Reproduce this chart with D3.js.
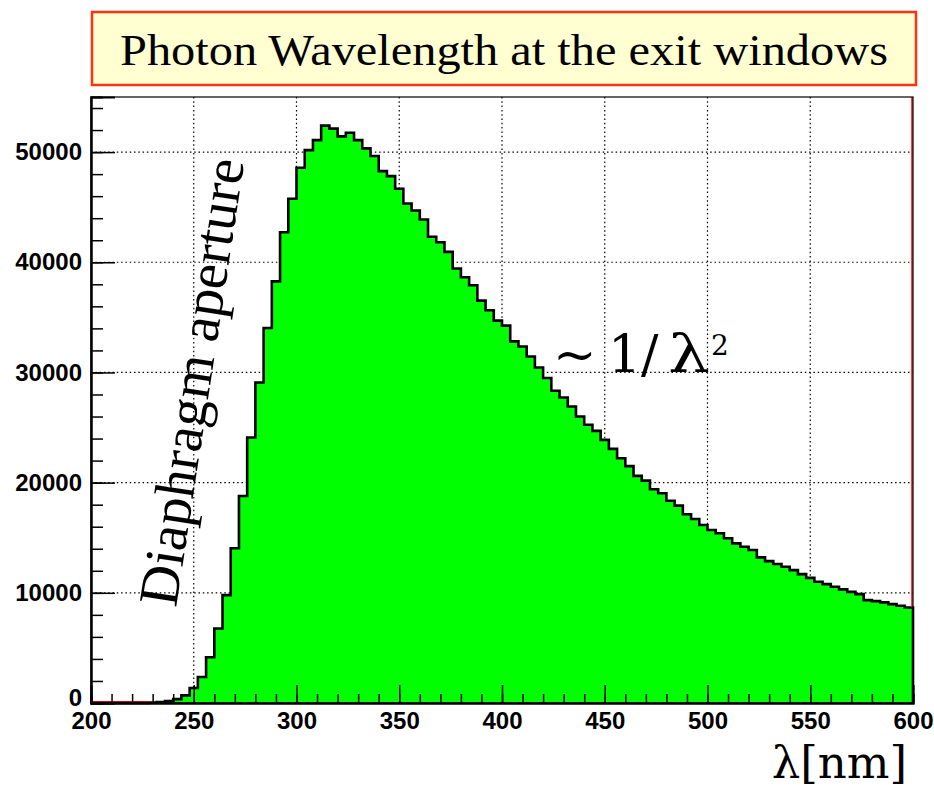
<!DOCTYPE html>
<html>
<head>
<meta charset="utf-8">
<script src="https://cdn.jsdelivr.net/npm/d3@7"></script>
<style>
  html, body { margin: 0; padding: 0; background: #fff; }
  svg { display: block; }
</style>
</head>
<body>
<svg id="chart" width="934" height="788"></svg>
<script>
// ---- data ----
const titleText = "Photon Wavelength at the exit windows";
const xAxisTitle = "λ[nm]";
const annotationAperture = "Diaphragm aperture";
const xTickLabels = [200, 250, 300, 350, 400, 450, 500, 550, 600];
const yTickLabels = [0, 10000, 20000, 30000, 40000, 50000];
const binWidth = 4;
const binLow = [
  200,204,208,212,216,220,224,228,232,236,240,244,248,252,256,260,264,268,272,276,
  280,284,288,292,296,300,304,308,312,316,320,324,328,332,336,340,344,348,352,356,
  360,364,368,372,376,380,384,388,392,396,400,404,408,412,416,420,424,428,432,436,
  440,444,448,452,456,460,464,468,472,476,480,484,488,492,496,500,504,508,512,516,
  520,524,528,532,536,540,544,548,552,556,560,564,568,572,576,580,584,588,592,596
];
const counts = [
  0,0,0,0,5,5,10,30,80,180,350,690,1360,2360,4150,6760,9790,14040,18790,24090,
  29090,34030,38270,42730,45760,48580,50180,51090,52400,52130,51430,51760,51090,50340,49640,48270,47820,46670,45340,44700,
  43880,42310,41820,40940,39430,38640,37910,36520,35640,34700,34250,32820,32360,31450,30450,29490,28340,27730,26910,26000,
  25250,24700,23880,23060,22220,21500,20610,20180,19400,19040,18360,17910,17130,16700,16150,15700,15400,14950,14490,14180,
  13880,13220,12880,12610,12360,12060,11700,11360,11000,10790,10550,10310,10090,9880,9340,9250,9130,8970,8820,8670
];
const xDomain = [200, 600];
const yDomain = [0, 55000];

// ---- layout ----
const L = 91, R = 913, T = 97, B = 703;
const svg = d3.select("#chart");
const x = d3.scaleLinear().domain(xDomain).range([L, R]);
const y = d3.scaleLinear().domain(yDomain).range([B, T]);

// title box
svg.append("rect")
  .attr("x", 92).attr("y", 12).attr("width", 824).attr("height", 73)
  .attr("fill", "#ffffd2").attr("stroke", "#ff3311").attr("stroke-width", 2.5);
svg.append("text")
  .attr("x", 504).attr("y", 65)
  .attr("text-anchor", "middle")
  .attr("font-family", "'Liberation Serif', 'Times New Roman', serif")
  .attr("font-size", 45)
  .attr("textLength", 768).attr("lengthAdjust", "spacingAndGlyphs")
  .attr("fill", "#000")
  .text(titleText);

// frame background
svg.append("rect").attr("x", L).attr("y", T).attr("width", R - L).attr("height", B - T)
  .attr("fill", "#fff");

// grid
const grid = svg.append("g").attr("stroke", "#000").attr("stroke-width", 1.2)
  .attr("stroke-dasharray", "1.5,2.8");
grid.selectAll("line.gx").data(xTickLabels.filter(v => v > xDomain[0] && v < xDomain[1]))
  .join("line").attr("class", "gx")
  .attr("x1", d => x(d)).attr("x2", d => x(d)).attr("y1", T).attr("y2", B);
grid.selectAll("line.gy").data(yTickLabels.filter(v => v > 0))
  .join("line").attr("class", "gy")
  .attr("x1", L).attr("x2", R).attr("y1", d => y(d)).attr("y2", d => y(d));

// histogram
const bins = binLow.map((lo, i) => ({ lo: lo, hi: lo + binWidth, v: counts[i] }));
let fillPath = `M${x(bins[0].lo)},${y(0)}`;
let linePath = `M${x(bins[0].lo)},${y(0)}`;
bins.forEach(b => {
  const seg = `L${x(b.lo)},${y(b.v)}L${x(b.hi)},${y(b.v)}`;
  fillPath += seg; linePath += seg;
});
fillPath += `L${x(bins[bins.length-1].hi)},${y(0)}Z`;
linePath += `L${x(bins[bins.length-1].hi)},${y(0)}`;
svg.append("path").attr("d", fillPath).attr("fill", "#00ff00").attr("stroke", "none");
svg.append("path").attr("d", linePath).attr("fill", "none")
  .attr("stroke", "#000").attr("stroke-width", 2.6).attr("stroke-linejoin", "miter");

// red lines (as in reference)
svg.append("line").attr("x1", x(200)).attr("x2", x(228)).attr("y1", B - 1.5).attr("y2", B - 1.5)
  .attr("stroke", "#cc0000").attr("stroke-width", 1.2);
svg.append("line").attr("x1", R - 1).attr("x2", R - 1).attr("y1", T).attr("y2", y(counts[counts.length-1]))
  .attr("stroke", "#ff0000").attr("stroke-width", 1.5);

// frame
svg.append("rect").attr("x", L).attr("y", T).attr("width", R - L).attr("height", B - T)
  .attr("fill", "none").attr("stroke", "#000").attr("stroke-width", 1.2);

// axes
const tickFont = "'Liberation Sans', Arial, Helvetica, sans-serif";
const xMinor = d3.range(xDomain[0], xDomain[1] + 1, 10);
const yMinor = d3.range(0, yDomain[1], 2000);

const gxMinor = svg.append("g").attr("transform", `translate(0,${B})`)
  .call(d3.axisBottom(x).tickValues(xMinor).tickSize(-9).tickFormat(""));
const gx = svg.append("g").attr("transform", `translate(0,${B})`)
  .call(d3.axisBottom(x).tickValues(xTickLabels).tickSize(-18).tickPadding(9).tickFormat(d3.format("d")));
const gyMinor = svg.append("g").attr("transform", `translate(${L},0)`)
  .call(d3.axisLeft(y).tickValues(yMinor).tickSize(-12).tickFormat(""));
const gy = svg.append("g").attr("transform", `translate(${L},0)`)
  .call(d3.axisLeft(y).tickValues(yTickLabels).tickSize(-24).tickPadding(9).tickFormat(d3.format("d")));

[gxMinor, gx, gyMinor, gy].forEach(g => {
  g.select(".domain").attr("stroke", "#000").attr("stroke-width", 2);
  g.selectAll(".tick line").attr("stroke", "#000").attr("stroke-width", 1.5);
});
[gx, gy].forEach(g => {
  g.selectAll(".tick text").attr("font-family", tickFont).attr("font-weight", "bold")
    .attr("font-size", 24).attr("fill", "#000");
});
// nudge the "0" label up slightly so it just touches the x labels, as in the reference
gy.selectAll(".tick").filter(d => d === 0).select("text").attr("dy", "0.1em");

// axis title
svg.append("text")
  .attr("x", 907).attr("y", 778).attr("text-anchor", "end")
  .attr("font-family", "'DejaVu Serif', serif").attr("font-size", 45)
  .attr("fill", "#000")
  .text(xAxisTitle);

// annotations
svg.append("text")
  .attr("transform", "translate(176,608) rotate(-81.3)")
  .attr("font-family", "'Liberation Serif', 'Times New Roman', serif")
  .attr("font-size", 56).attr("fill", "#000")
  .attr("textLength", 452).attr("lengthAdjust", "spacingAndGlyphs")
  .text(annotationAperture);

const law = svg.append("text")
  .attr("font-family", "'DejaVu Serif', serif").attr("font-size", 52).attr("fill", "#000");
law.append("tspan").attr("x", 553).attr("y", 372).text("~");
law.append("tspan").attr("x", 608).attr("y", 372).text("1/");
law.append("tspan").attr("x", 668).attr("y", 372)
  .attr("textLength", 42).attr("lengthAdjust", "spacingAndGlyphs").text("λ");
law.append("tspan").attr("x", 711).attr("y", 355).attr("font-size", 28).text("2");
</script>
</body>
</html>
